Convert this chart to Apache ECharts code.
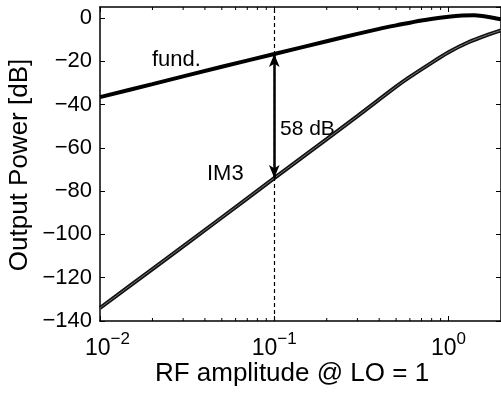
<!DOCTYPE html>
<html>
<head>
<meta charset="utf-8">
<script src="https://cdn.jsdelivr.net/npm/echarts@6/dist/echarts.min.js"></script>
<style>
html,body{margin:0;padding:0;background:#fff;}
#c{width:501px;height:393px;}
</style>
</head>
<body>
<div id="c"></div>
<script>
// ---- data ----
const fundAmp = [0.01, 0.02, 0.05, 0.1, 0.2, 0.3, 0.4, 0.5, 0.7, 1.0, 1.2, 1.4, 1.6, 1.8, 2.0];
const fundDb  = [-36.6, -30.6, -22.6, -16.7, -10.8, -7.4, -5.1, -3.5, -1.2, 0.5, 1.1, 1.2, 0.7, 0.0, -0.7];
const im3Amp  = [0.01, 0.02, 0.05, 0.1, 0.2, 0.3, 0.5, 0.6, 0.77, 1.0, 1.3, 1.67, 2.0];
const im3Db   = [-134, -116, -92.2, -74, -56, -45.4, -31.8, -27.3, -21.6, -15.9, -11.3, -7.9, -5.8];
const gapAmp = 0.1;           // where the 58 dB gap is marked
const gapTop = -16.7;         // fund. level at gapAmp
const gapBottom = -74;        // IM3 level at gapAmp
const xMin = 0.01, xMax = 2;
const yMin = -140, yMax = 5, yStep = 20;
const minorTicks = [0.02,0.03,0.04,0.05,0.06,0.07,0.08,0.09,0.2,0.3,0.4,0.5,0.6,0.7,0.8,0.9];
const labels = {fund: 'fund.', im3: 'IM3', gap: '58 dB',
  xTitle: 'RF amplitude @ LO = 1', yTitle: 'Output Power [dB]'};

const FONT = '"Liberation Sans", Arial, Helvetica, sans-serif';
const zip = (a, b) => a.map((v, i) => [v, b[i]]);

function xLabel(v) {
  const e = Math.log10(v);
  const r = Math.round(e);
  if (Math.abs(e - r) > 1e-6) return '';
  const s = String(r).replace('-', '\u2212');
  if (v <= xMin * 1.0001) return '{b2|10}{s|' + s + '}';
  return '{b|10}{s|' + s + '}';
}
function yLabel(v) {
  if (Math.abs(v % yStep) > 1e-6) return '';
  return String(v).replace('-', '\u2212');
}

const chart = echarts.init(document.getElementById('c'), null, {renderer: 'canvas'});
const axisLine = {show: true, onZero: false, lineStyle: {color: '#000', width: 1.5}};
const tick = {show: true, inside: true, length: 5, lineStyle: {color: '#000', width: 1}};
const richX = {
  b: {fontSize: 23, fontFamily: FONT, color: '#000', lineHeight: 29, verticalAlign: 'bottom'},
  b2: {fontSize: 23, fontFamily: FONT, color: '#000', lineHeight: 29, verticalAlign: 'bottom', padding: [0, 0, 0, 15]},
  s: {fontSize: 17, fontFamily: FONT, color: '#000', lineHeight: 15, verticalAlign: 'top'}
};

chart.setOption({
  animation: false,
  backgroundColor: '#fff',
  grid: {left: 100, top: 7, right: -3, bottom: 72, containLabel: false},
  xAxis: [{
    type: 'log', logBase: 10, min: xMin, max: xMax, position: 'bottom',
    axisLine: axisLine, axisTick: tick,
    axisLabel: {formatter: xLabel, margin: 10, rich: richX, showMaxLabel: false},
    splitLine: {show: false}
  }, {
    type: 'log', logBase: 10, min: xMin, max: xMax, position: 'top',
    axisLine: axisLine, axisTick: tick,
    axisLabel: {show: false}, splitLine: {show: false}
  }],
  yAxis: [{
    type: 'value', min: yMin, max: yMax, interval: yStep, position: 'left',
    axisLine: axisLine, axisTick: tick,
    axisLabel: {formatter: yLabel, margin: 8, fontSize: 22, fontFamily: FONT, color: '#000', showMaxLabel: false},
    splitLine: {show: false}
  }, {
    type: 'value', min: yMin, max: yMax, interval: yStep, position: 'right',
    axisLine: axisLine, axisTick: tick,
    axisLabel: {show: false}, splitLine: {show: false}
  }],
  series: [{
    name: 'fund', type: 'line', data: zip(fundAmp, fundDb), smooth: 0.3,
    showSymbol: false, lineStyle: {color: '#000', width: 4}, z: 3,
    markLine: {
      silent: true, symbol: ['none', 'none'], label: {show: false},
      lineStyle: {color: '#000', width: 1.2, type: [4, 3]},
      data: [{xAxis: gapAmp}]
    }
  }, {
    name: 'IM3', type: 'line', data: zip(im3Amp, im3Db), smooth: 0.3,
    showSymbol: false, lineStyle: {color: '#111', width: 4}, z: 3
  }, {
    name: 'IM3 core', type: 'line', data: zip(im3Amp, im3Db), smooth: 0.3,
    showSymbol: false, lineStyle: {color: '#777', width: 1}, z: 4,
    markLine: {
      silent: true, symbol: ['arrow', 'arrow'], symbolSize: [8, 13],
      label: {show: false},
      lineStyle: {color: '#000', width: 2.5, type: 'solid'},
      data: [[{coord: [gapAmp, gapTop]}, {coord: [gapAmp, gapBottom]}]]
    }
  }, {
    name: 'minor ticks', type: 'custom', coordinateSystem: 'cartesian2d',
    data: minorTicks.map(v => [v, yMin]), clip: false, silent: true, z: 5,
    renderItem: function (params, api) {
      const v = api.value(0);
      const b = api.coord([v, yMin]);
      const t = api.coord([v, yMax]);
      const st = {stroke: '#000', lineWidth: 1};
      return {type: 'group', children: [
        {type: 'line', shape: {x1: b[0], y1: b[1], x2: b[0], y2: b[1] - 3}, style: st},
        {type: 'line', shape: {x1: t[0], y1: t[1], x2: t[0], y2: t[1] + 3}, style: st}
      ]};
    }
  }],
  graphic: [
    {type: 'text', left: 152, top: 49, style: {text: labels.fund, font: '22px ' + FONT, fill: '#000'}},
    {type: 'text', left: 280, top: 119, style: {text: labels.gap, font: '21px ' + FONT, fill: '#000'}},
    {type: 'text', left: 207, top: 163, style: {text: labels.im3, font: '22px ' + FONT, fill: '#000'}},
    {type: 'text', x: 292, y: 374, style: {text: labels.xTitle, font: '26px ' + FONT, fill: '#000', align: 'center', verticalAlign: 'middle'}},
    {type: 'text', x: 20, y: 165, rotation: Math.PI / 2, style: {text: labels.yTitle, font: '26px ' + FONT, fill: '#000', align: 'center', verticalAlign: 'middle'}}
  ]
});
</script>
</body>
</html>
